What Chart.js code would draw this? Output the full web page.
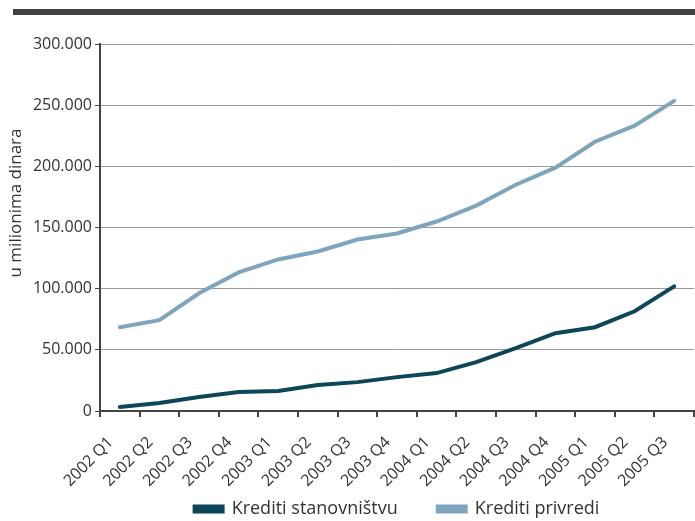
<!DOCTYPE html>
<html>
<head>
<meta charset="utf-8">
<script src="https://cdn.jsdelivr.net/npm/chart.js@4"></script>
<style>
    body { margin: 0; background: #fff; }
    #wrap { width: 695px; height: 521px; position: relative; }
</style>
</head>
<body>
<div id="wrap"><canvas id="kreditiChart" width="695" height="521"></canvas></div>
<script>
const quarters = ['2002 Q1', '2002 Q2', '2002 Q3', '2002 Q4', '2003 Q1', '2003 Q2', '2003 Q3', '2003 Q4',
    '2004 Q1', '2004 Q2', '2004 Q3', '2004 Q4', '2005 Q1', '2005 Q2', '2005 Q3'];
const stanovnistvo = [3300, 6500, 11400, 15500, 16300, 21200, 23600, 27700, 31000, 40000, 51400, 63600, 68500, 81500, 101900];
const privredi = [68500, 74200, 96200, 113300, 123900, 130400, 140200, 145100, 154900, 167900, 185000, 198900, 220100, 233200, 253500];
const yTicks = [0, 50000, 100000, 150000, 200000, 250000, 300000];
const yTitle = 'u milionima dinara';

const fontFamily = '"Open Sans", "Noto Sans", sans-serif';
const textColor = '#333';

// dark rule across the top + y axis title placed like the original
const decor = {
    id: 'decor',
    beforeDraw(chart) {
        const c = chart.ctx;
        c.save();
        c.fillStyle = '#404040';
        c.fillRect(13, 9, 682, 6);
        c.restore();
    },
    afterDraw(chart) {
        const c = chart.ctx;
        c.save();
        c.translate(16, 203);
        c.rotate(-Math.PI / 2);
        c.fillStyle = textColor;
        c.font = '17px ' + fontFamily;
        c.textAlign = 'center';
        c.textBaseline = 'middle';
        c.fillText(yTitle, 0, 0);
        c.restore();
    }
};

function fmt(v) {
    return v === 0 ? '0' : v.toLocaleString('de-DE');
}

const ctx = document.getElementById('kreditiChart').getContext('2d');
new Chart(ctx, {
    type: 'line',
    data: {
        labels: quarters,
        datasets: [{
            label: 'Krediti stanovništvu',
            data: stanovnistvo,
            borderColor: '#0d4659',
            backgroundColor: '#0d4659',
            borderWidth: 4,
            pointRadius: 0,
            tension: 0,
            borderCapStyle: 'round'
        }, {
            label: 'Krediti privredi',
            data: privredi,
            borderColor: '#7fa4be',
            backgroundColor: '#7fa4be',
            borderWidth: 4,
            pointRadius: 0,
            tension: 0,
            borderCapStyle: 'round'
        }]
    },
    options: {
        responsive: false,
        animation: false,
        layout: { padding: { top: 44, right: 1, left: 8, bottom: -7 } },
        plugins: {
            legend: {
                position: 'bottom',
                fullSize: false,
                labels: {
                    boxWidth: 28,
                    boxHeight: 5,
                    padding: 40,
                    color: textColor,
                    font: { family: fontFamily, size: 18 }
                }
            },
            tooltip: { enabled: false }
        },
        scales: {
            x: {
                offset: true,
                grid: { drawOnChartArea: false, offset: true, tickLength: 6, tickColor: '#444', lineWidth: 2 },
                border: { color: '#444', width: 2 },
                ticks: { color: textColor, font: { family: fontFamily, size: 16 }, minRotation: 45, maxRotation: 45, padding: 16, labelOffset: -9 },
                afterFit(scale) {
                    scale.height = 49;
                    scale.paddingRight = 0;
                    // labels hang below into the legend strip, don't clip them
                    scale._computeLabelArea = () => undefined;
                }
            },
            y: {
                min: 0,
                max: 300000,
                afterBuildTicks(scale) { scale.ticks = yTicks.map(v => ({ value: v })); },
                grid: { color: '#999', lineWidth: 1, tickLength: 5, tickColor: '#444' },
                border: { color: '#444', width: 2 },
                ticks: { color: textColor, font: { family: fontFamily, size: 16 }, padding: 3, callback: v => fmt(v) },
                afterFit(scale) { scale.width = 92; }
            }
        }
    },
    plugins: [decor]
});
</script>
</body>
</html>
